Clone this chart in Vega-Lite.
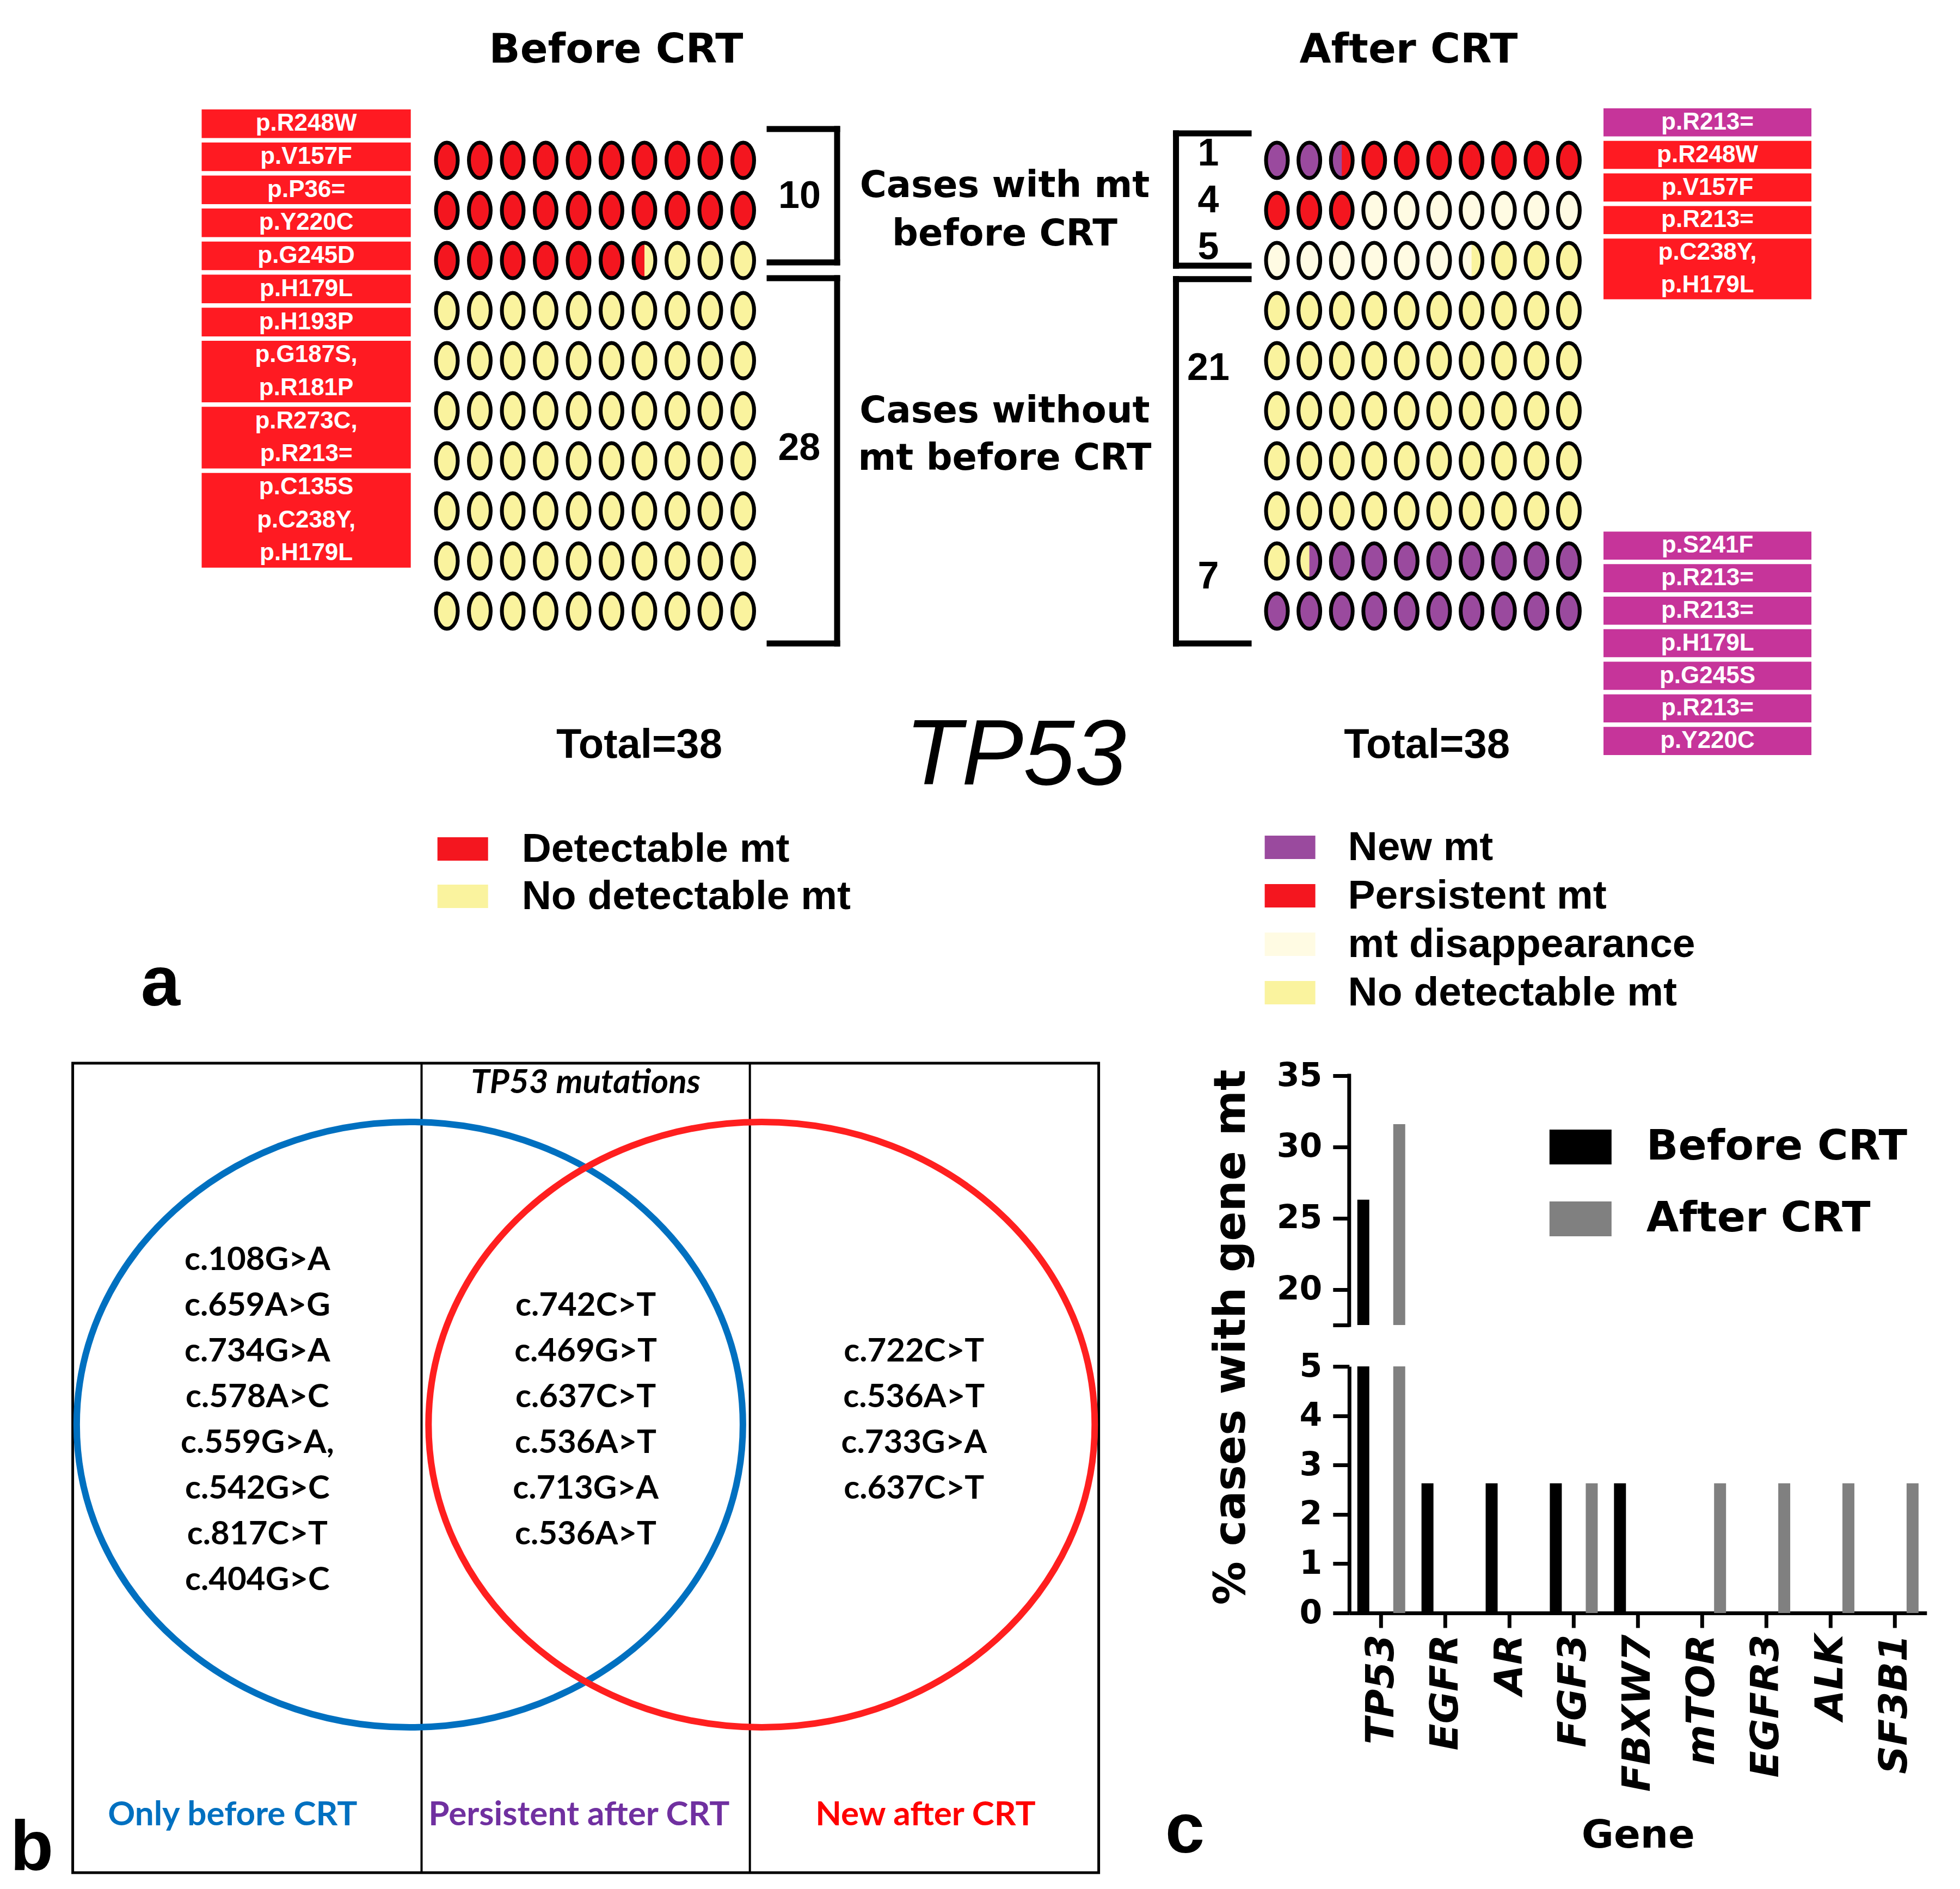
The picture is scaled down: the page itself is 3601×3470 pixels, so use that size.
{
  "$schema": "https://vega.github.io/schema/vega-lite/v6.json",
  "padding": 0,
  "background": "white",
  "spacing": 0,
  "bounds": "flush",
  "config": {"view": {"stroke": null}, "font": "Liberation Sans", "axis": {"grid": false}},
  "resolve": {"scale": {"color": "independent", "x": "independent", "y": "independent"}, "legend": {"color": "independent"}},
  "datasets": {
    "before": [
      {"r":0,"c":0,"L":"Detectable mt","R":"Detectable mt"},{"r":0,"c":1,"L":"Detectable mt","R":"Detectable mt"},{"r":0,"c":2,"L":"Detectable mt","R":"Detectable mt"},{"r":0,"c":3,"L":"Detectable mt","R":"Detectable mt"},{"r":0,"c":4,"L":"Detectable mt","R":"Detectable mt"},{"r":0,"c":5,"L":"Detectable mt","R":"Detectable mt"},{"r":0,"c":6,"L":"Detectable mt","R":"Detectable mt"},{"r":0,"c":7,"L":"Detectable mt","R":"Detectable mt"},{"r":0,"c":8,"L":"Detectable mt","R":"Detectable mt"},{"r":0,"c":9,"L":"Detectable mt","R":"Detectable mt"},
      {"r":1,"c":0,"L":"Detectable mt","R":"Detectable mt"},{"r":1,"c":1,"L":"Detectable mt","R":"Detectable mt"},{"r":1,"c":2,"L":"Detectable mt","R":"Detectable mt"},{"r":1,"c":3,"L":"Detectable mt","R":"Detectable mt"},{"r":1,"c":4,"L":"Detectable mt","R":"Detectable mt"},{"r":1,"c":5,"L":"Detectable mt","R":"Detectable mt"},{"r":1,"c":6,"L":"Detectable mt","R":"Detectable mt"},{"r":1,"c":7,"L":"Detectable mt","R":"Detectable mt"},{"r":1,"c":8,"L":"Detectable mt","R":"Detectable mt"},{"r":1,"c":9,"L":"Detectable mt","R":"Detectable mt"},
      {"r":2,"c":0,"L":"Detectable mt","R":"Detectable mt"},{"r":2,"c":1,"L":"Detectable mt","R":"Detectable mt"},{"r":2,"c":2,"L":"Detectable mt","R":"Detectable mt"},{"r":2,"c":3,"L":"Detectable mt","R":"Detectable mt"},{"r":2,"c":4,"L":"Detectable mt","R":"Detectable mt"},{"r":2,"c":5,"L":"Detectable mt","R":"Detectable mt"},{"r":2,"c":6,"L":"Detectable mt","R":"No detectable mt"},{"r":2,"c":7,"L":"No detectable mt","R":"No detectable mt"},{"r":2,"c":8,"L":"No detectable mt","R":"No detectable mt"},{"r":2,"c":9,"L":"No detectable mt","R":"No detectable mt"},
      {"r":3,"c":0,"L":"No detectable mt","R":"No detectable mt"},{"r":3,"c":1,"L":"No detectable mt","R":"No detectable mt"},{"r":3,"c":2,"L":"No detectable mt","R":"No detectable mt"},{"r":3,"c":3,"L":"No detectable mt","R":"No detectable mt"},{"r":3,"c":4,"L":"No detectable mt","R":"No detectable mt"},{"r":3,"c":5,"L":"No detectable mt","R":"No detectable mt"},{"r":3,"c":6,"L":"No detectable mt","R":"No detectable mt"},{"r":3,"c":7,"L":"No detectable mt","R":"No detectable mt"},{"r":3,"c":8,"L":"No detectable mt","R":"No detectable mt"},{"r":3,"c":9,"L":"No detectable mt","R":"No detectable mt"},
      {"r":4,"c":0,"L":"No detectable mt","R":"No detectable mt"},{"r":4,"c":1,"L":"No detectable mt","R":"No detectable mt"},{"r":4,"c":2,"L":"No detectable mt","R":"No detectable mt"},{"r":4,"c":3,"L":"No detectable mt","R":"No detectable mt"},{"r":4,"c":4,"L":"No detectable mt","R":"No detectable mt"},{"r":4,"c":5,"L":"No detectable mt","R":"No detectable mt"},{"r":4,"c":6,"L":"No detectable mt","R":"No detectable mt"},{"r":4,"c":7,"L":"No detectable mt","R":"No detectable mt"},{"r":4,"c":8,"L":"No detectable mt","R":"No detectable mt"},{"r":4,"c":9,"L":"No detectable mt","R":"No detectable mt"},
      {"r":5,"c":0,"L":"No detectable mt","R":"No detectable mt"},{"r":5,"c":1,"L":"No detectable mt","R":"No detectable mt"},{"r":5,"c":2,"L":"No detectable mt","R":"No detectable mt"},{"r":5,"c":3,"L":"No detectable mt","R":"No detectable mt"},{"r":5,"c":4,"L":"No detectable mt","R":"No detectable mt"},{"r":5,"c":5,"L":"No detectable mt","R":"No detectable mt"},{"r":5,"c":6,"L":"No detectable mt","R":"No detectable mt"},{"r":5,"c":7,"L":"No detectable mt","R":"No detectable mt"},{"r":5,"c":8,"L":"No detectable mt","R":"No detectable mt"},{"r":5,"c":9,"L":"No detectable mt","R":"No detectable mt"},
      {"r":6,"c":0,"L":"No detectable mt","R":"No detectable mt"},{"r":6,"c":1,"L":"No detectable mt","R":"No detectable mt"},{"r":6,"c":2,"L":"No detectable mt","R":"No detectable mt"},{"r":6,"c":3,"L":"No detectable mt","R":"No detectable mt"},{"r":6,"c":4,"L":"No detectable mt","R":"No detectable mt"},{"r":6,"c":5,"L":"No detectable mt","R":"No detectable mt"},{"r":6,"c":6,"L":"No detectable mt","R":"No detectable mt"},{"r":6,"c":7,"L":"No detectable mt","R":"No detectable mt"},{"r":6,"c":8,"L":"No detectable mt","R":"No detectable mt"},{"r":6,"c":9,"L":"No detectable mt","R":"No detectable mt"},
      {"r":7,"c":0,"L":"No detectable mt","R":"No detectable mt"},{"r":7,"c":1,"L":"No detectable mt","R":"No detectable mt"},{"r":7,"c":2,"L":"No detectable mt","R":"No detectable mt"},{"r":7,"c":3,"L":"No detectable mt","R":"No detectable mt"},{"r":7,"c":4,"L":"No detectable mt","R":"No detectable mt"},{"r":7,"c":5,"L":"No detectable mt","R":"No detectable mt"},{"r":7,"c":6,"L":"No detectable mt","R":"No detectable mt"},{"r":7,"c":7,"L":"No detectable mt","R":"No detectable mt"},{"r":7,"c":8,"L":"No detectable mt","R":"No detectable mt"},{"r":7,"c":9,"L":"No detectable mt","R":"No detectable mt"},
      {"r":8,"c":0,"L":"No detectable mt","R":"No detectable mt"},{"r":8,"c":1,"L":"No detectable mt","R":"No detectable mt"},{"r":8,"c":2,"L":"No detectable mt","R":"No detectable mt"},{"r":8,"c":3,"L":"No detectable mt","R":"No detectable mt"},{"r":8,"c":4,"L":"No detectable mt","R":"No detectable mt"},{"r":8,"c":5,"L":"No detectable mt","R":"No detectable mt"},{"r":8,"c":6,"L":"No detectable mt","R":"No detectable mt"},{"r":8,"c":7,"L":"No detectable mt","R":"No detectable mt"},{"r":8,"c":8,"L":"No detectable mt","R":"No detectable mt"},{"r":8,"c":9,"L":"No detectable mt","R":"No detectable mt"},
      {"r":9,"c":0,"L":"No detectable mt","R":"No detectable mt"},{"r":9,"c":1,"L":"No detectable mt","R":"No detectable mt"},{"r":9,"c":2,"L":"No detectable mt","R":"No detectable mt"},{"r":9,"c":3,"L":"No detectable mt","R":"No detectable mt"},{"r":9,"c":4,"L":"No detectable mt","R":"No detectable mt"},{"r":9,"c":5,"L":"No detectable mt","R":"No detectable mt"},{"r":9,"c":6,"L":"No detectable mt","R":"No detectable mt"},{"r":9,"c":7,"L":"No detectable mt","R":"No detectable mt"},{"r":9,"c":8,"L":"No detectable mt","R":"No detectable mt"},{"r":9,"c":9,"L":"No detectable mt","R":"No detectable mt"}
    ],
    "after": [
      {"r":0,"c":0,"L":"New mt","R":"New mt"},{"r":0,"c":1,"L":"New mt","R":"New mt"},{"r":0,"c":2,"L":"New mt","R":"Persistent mt"},{"r":0,"c":3,"L":"Persistent mt","R":"Persistent mt"},{"r":0,"c":4,"L":"Persistent mt","R":"Persistent mt"},{"r":0,"c":5,"L":"Persistent mt","R":"Persistent mt"},{"r":0,"c":6,"L":"Persistent mt","R":"Persistent mt"},{"r":0,"c":7,"L":"Persistent mt","R":"Persistent mt"},{"r":0,"c":8,"L":"Persistent mt","R":"Persistent mt"},{"r":0,"c":9,"L":"Persistent mt","R":"Persistent mt"},
      {"r":1,"c":0,"L":"Persistent mt","R":"Persistent mt"},{"r":1,"c":1,"L":"Persistent mt","R":"Persistent mt"},{"r":1,"c":2,"L":"Persistent mt","R":"Persistent mt"},{"r":1,"c":3,"L":"mt disappearance","R":"mt disappearance"},{"r":1,"c":4,"L":"mt disappearance","R":"mt disappearance"},{"r":1,"c":5,"L":"mt disappearance","R":"mt disappearance"},{"r":1,"c":6,"L":"mt disappearance","R":"mt disappearance"},{"r":1,"c":7,"L":"mt disappearance","R":"mt disappearance"},{"r":1,"c":8,"L":"mt disappearance","R":"mt disappearance"},{"r":1,"c":9,"L":"mt disappearance","R":"mt disappearance"},
      {"r":2,"c":0,"L":"mt disappearance","R":"mt disappearance"},{"r":2,"c":1,"L":"mt disappearance","R":"mt disappearance"},{"r":2,"c":2,"L":"mt disappearance","R":"mt disappearance"},{"r":2,"c":3,"L":"mt disappearance","R":"mt disappearance"},{"r":2,"c":4,"L":"mt disappearance","R":"mt disappearance"},{"r":2,"c":5,"L":"mt disappearance","R":"mt disappearance"},{"r":2,"c":6,"L":"mt disappearance","R":"No detectable mt"},{"r":2,"c":7,"L":"No detectable mt","R":"No detectable mt"},{"r":2,"c":8,"L":"No detectable mt","R":"No detectable mt"},{"r":2,"c":9,"L":"No detectable mt","R":"No detectable mt"},
      {"r":3,"c":0,"L":"No detectable mt","R":"No detectable mt"},{"r":3,"c":1,"L":"No detectable mt","R":"No detectable mt"},{"r":3,"c":2,"L":"No detectable mt","R":"No detectable mt"},{"r":3,"c":3,"L":"No detectable mt","R":"No detectable mt"},{"r":3,"c":4,"L":"No detectable mt","R":"No detectable mt"},{"r":3,"c":5,"L":"No detectable mt","R":"No detectable mt"},{"r":3,"c":6,"L":"No detectable mt","R":"No detectable mt"},{"r":3,"c":7,"L":"No detectable mt","R":"No detectable mt"},{"r":3,"c":8,"L":"No detectable mt","R":"No detectable mt"},{"r":3,"c":9,"L":"No detectable mt","R":"No detectable mt"},
      {"r":4,"c":0,"L":"No detectable mt","R":"No detectable mt"},{"r":4,"c":1,"L":"No detectable mt","R":"No detectable mt"},{"r":4,"c":2,"L":"No detectable mt","R":"No detectable mt"},{"r":4,"c":3,"L":"No detectable mt","R":"No detectable mt"},{"r":4,"c":4,"L":"No detectable mt","R":"No detectable mt"},{"r":4,"c":5,"L":"No detectable mt","R":"No detectable mt"},{"r":4,"c":6,"L":"No detectable mt","R":"No detectable mt"},{"r":4,"c":7,"L":"No detectable mt","R":"No detectable mt"},{"r":4,"c":8,"L":"No detectable mt","R":"No detectable mt"},{"r":4,"c":9,"L":"No detectable mt","R":"No detectable mt"},
      {"r":5,"c":0,"L":"No detectable mt","R":"No detectable mt"},{"r":5,"c":1,"L":"No detectable mt","R":"No detectable mt"},{"r":5,"c":2,"L":"No detectable mt","R":"No detectable mt"},{"r":5,"c":3,"L":"No detectable mt","R":"No detectable mt"},{"r":5,"c":4,"L":"No detectable mt","R":"No detectable mt"},{"r":5,"c":5,"L":"No detectable mt","R":"No detectable mt"},{"r":5,"c":6,"L":"No detectable mt","R":"No detectable mt"},{"r":5,"c":7,"L":"No detectable mt","R":"No detectable mt"},{"r":5,"c":8,"L":"No detectable mt","R":"No detectable mt"},{"r":5,"c":9,"L":"No detectable mt","R":"No detectable mt"},
      {"r":6,"c":0,"L":"No detectable mt","R":"No detectable mt"},{"r":6,"c":1,"L":"No detectable mt","R":"No detectable mt"},{"r":6,"c":2,"L":"No detectable mt","R":"No detectable mt"},{"r":6,"c":3,"L":"No detectable mt","R":"No detectable mt"},{"r":6,"c":4,"L":"No detectable mt","R":"No detectable mt"},{"r":6,"c":5,"L":"No detectable mt","R":"No detectable mt"},{"r":6,"c":6,"L":"No detectable mt","R":"No detectable mt"},{"r":6,"c":7,"L":"No detectable mt","R":"No detectable mt"},{"r":6,"c":8,"L":"No detectable mt","R":"No detectable mt"},{"r":6,"c":9,"L":"No detectable mt","R":"No detectable mt"},
      {"r":7,"c":0,"L":"No detectable mt","R":"No detectable mt"},{"r":7,"c":1,"L":"No detectable mt","R":"No detectable mt"},{"r":7,"c":2,"L":"No detectable mt","R":"No detectable mt"},{"r":7,"c":3,"L":"No detectable mt","R":"No detectable mt"},{"r":7,"c":4,"L":"No detectable mt","R":"No detectable mt"},{"r":7,"c":5,"L":"No detectable mt","R":"No detectable mt"},{"r":7,"c":6,"L":"No detectable mt","R":"No detectable mt"},{"r":7,"c":7,"L":"No detectable mt","R":"No detectable mt"},{"r":7,"c":8,"L":"No detectable mt","R":"No detectable mt"},{"r":7,"c":9,"L":"No detectable mt","R":"No detectable mt"},
      {"r":8,"c":0,"L":"No detectable mt","R":"No detectable mt"},{"r":8,"c":1,"L":"No detectable mt","R":"New mt"},{"r":8,"c":2,"L":"New mt","R":"New mt"},{"r":8,"c":3,"L":"New mt","R":"New mt"},{"r":8,"c":4,"L":"New mt","R":"New mt"},{"r":8,"c":5,"L":"New mt","R":"New mt"},{"r":8,"c":6,"L":"New mt","R":"New mt"},{"r":8,"c":7,"L":"New mt","R":"New mt"},{"r":8,"c":8,"L":"New mt","R":"New mt"},{"r":8,"c":9,"L":"New mt","R":"New mt"},
      {"r":9,"c":0,"L":"New mt","R":"New mt"},{"r":9,"c":1,"L":"New mt","R":"New mt"},{"r":9,"c":2,"L":"New mt","R":"New mt"},{"r":9,"c":3,"L":"New mt","R":"New mt"},{"r":9,"c":4,"L":"New mt","R":"New mt"},{"r":9,"c":5,"L":"New mt","R":"New mt"},{"r":9,"c":6,"L":"New mt","R":"New mt"},{"r":9,"c":7,"L":"New mt","R":"New mt"},{"r":9,"c":8,"L":"New mt","R":"New mt"},{"r":9,"c":9,"L":"New mt","R":"New mt"}
    ],
    "lbBoxes": [
      {"s":0,"e":1,"k":"Detectable mt"},{"s":1,"e":2,"k":"Detectable mt"},{"s":2,"e":3,"k":"Detectable mt"},{"s":3,"e":4,"k":"Detectable mt"},{"s":4,"e":5,"k":"Detectable mt"},{"s":5,"e":6,"k":"Detectable mt"},{"s":6,"e":7,"k":"Detectable mt"},{"s":7,"e":9,"k":"Detectable mt"},{"s":9,"e":11,"k":"Detectable mt"},{"s":11,"e":14,"k":"Detectable mt"}
    ],
    "lbText": [
      {"t":"p.R248W","l":0},{"t":"p.V157F","l":1},{"t":"p.P36=","l":2},{"t":"p.Y220C","l":3},{"t":"p.G245D","l":4},{"t":"p.H179L","l":5},{"t":"p.H193P","l":6},{"t":"p.G187S,","l":7},{"t":"p.R181P","l":8},{"t":"p.R273C,","l":9},{"t":"p.R213=","l":10},{"t":"p.C135S","l":11},{"t":"p.C238Y,","l":12},{"t":"p.H179L","l":13}
    ],
    "laBoxes": [
      {"s":0,"e":1,"k":"New mt"},{"s":1,"e":2,"k":"Persistent mt"},{"s":2,"e":3,"k":"Persistent mt"},{"s":3,"e":4,"k":"Persistent mt"},{"s":4,"e":6,"k":"Persistent mt"},
      {"s":13,"e":14,"k":"New mt"},{"s":14,"e":15,"k":"New mt"},{"s":15,"e":16,"k":"New mt"},{"s":16,"e":17,"k":"New mt"},{"s":17,"e":18,"k":"New mt"},{"s":18,"e":19,"k":"New mt"},{"s":19,"e":20,"k":"New mt"}
    ],
    "laText": [
      {"t":"p.R213=","l":0},{"t":"p.R248W","l":1},{"t":"p.V157F","l":2},{"t":"p.R213=","l":3},{"t":"p.C238Y,","l":4},{"t":"p.H179L","l":5},
      {"t":"p.S241F","l":13},{"t":"p.R213=","l":14},{"t":"p.R213=","l":15},{"t":"p.H179L","l":16},{"t":"p.G245S","l":17},{"t":"p.R213=","l":18},{"t":"p.Y220C","l":19}
    ],
    "venn": [
      {"g":"Only before CRT","s":0,"t":"c.108G>A"},{"g":"Only before CRT","s":1,"t":"c.659A>G"},{"g":"Only before CRT","s":2,"t":"c.734G>A"},{"g":"Only before CRT","s":3,"t":"c.578A>C"},{"g":"Only before CRT","s":4,"t":"c.559G>A,"},{"g":"Only before CRT","s":5,"t":"c.542G>C"},{"g":"Only before CRT","s":6,"t":"c.817C>T"},{"g":"Only before CRT","s":7,"t":"c.404G>C"},
      {"g":"Persistent after CRT","s":1,"t":"c.742C>T"},{"g":"Persistent after CRT","s":2,"t":"c.469G>T"},{"g":"Persistent after CRT","s":3,"t":"c.637C>T"},{"g":"Persistent after CRT","s":4,"t":"c.536A>T"},{"g":"Persistent after CRT","s":5,"t":"c.713G>A"},{"g":"Persistent after CRT","s":6,"t":"c.536A>T"},
      {"g":"New after CRT","s":2,"t":"c.722C>T"},{"g":"New after CRT","s":3,"t":"c.536A>T"},{"g":"New after CRT","s":4,"t":"c.733G>A"},{"g":"New after CRT","s":5,"t":"c.637C>T"}
    ],
    "genes": [
      {"gene":"TP53","period":"Before CRT","pct":26.3},{"gene":"TP53","period":"After CRT","pct":31.6},
      {"gene":"EGFR","period":"Before CRT","pct":2.63},{"gene":"AR","period":"Before CRT","pct":2.63},
      {"gene":"FGF3","period":"Before CRT","pct":2.63},{"gene":"FGF3","period":"After CRT","pct":2.63},
      {"gene":"FBXW7","period":"Before CRT","pct":2.63},{"gene":"mTOR","period":"After CRT","pct":2.63},
      {"gene":"EGFR3","period":"After CRT","pct":2.63},{"gene":"ALK","period":"After CRT","pct":2.63},
      {"gene":"SF3B1","period":"After CRT","pct":2.63}
    ]
  },
  "vconcat": [
    {
      "width": 3601,
      "height": 1953,
      "resolve": {"scale": {"x": "independent", "y": "independent", "color": "independent"}, "legend": {"color": "independent"}},
      "layer": [
        {
          "layer": [
            {"data": {"name": "before"}, "mark": {"type": "point", "shape": "M0 -1 A0.615 1 0 1 1 0 1 A0.615 1 0 1 1 0 -1 Z", "size": 4225, "filled": true, "opacity": 1, "strokeWidth": 0},
             "encoding": {
               "x": {"field": "c", "type": "quantitative", "scale": {"domain": [-13.5702, 45.9505], "nice": false, "zero": false}, "axis": null},
               "y": {"field": "r", "type": "quantitative", "scale": {"domain": [-3.2011, 18.0272], "nice": false, "zero": false, "reverse": true}, "axis": null},
               "color": {"field": "L", "type": "nominal", "scale": {"domain": ["Detectable mt", "No detectable mt"], "range": ["#f4161f", "#faf39e"]},
                 "legend": {"title": null, "orient": "none", "legendX": 803.7, "legendY": 1513, "symbolType": "M-1 -0.4624 H1 V0.4624 H-1 Z", "symbolSize": 8649, "symbolStrokeWidth": 0, "symbolOpacity": 1, "labelFont": "Liberation Sans", "labelFontWeight": "bold", "labelFontSize": 75, "labelColor": "black", "labelOffset": 62, "labelLimit": 2000, "rowPadding": 2, "padding": 0}}
             }},
            {"data": {"name": "before"}, "mark": {"type": "point", "shape": "M0 -1 A0.615 1 0 0 1 0 1 Z", "size": 4225, "filled": true, "opacity": 1, "strokeWidth": 0},
             "encoding": {
               "x": {"field": "c", "type": "quantitative", "scale": {"domain": [-13.5702, 45.9505], "nice": false, "zero": false}, "axis": null},
               "y": {"field": "r", "type": "quantitative", "scale": {"domain": [-3.2011, 18.0272], "nice": false, "zero": false, "reverse": true}, "axis": null},
               "color": {"field": "R", "type": "nominal", "scale": {"domain": ["Detectable mt", "No detectable mt"], "range": ["#f4161f", "#faf39e"]}}
             }},
            {"data": {"name": "before"}, "mark": {"type": "point", "shape": "M0 -1 A0.615 1 0 1 1 0 1 A0.615 1 0 1 1 0 -1 Z", "size": 4225, "filled": false, "opacity": 1, "color": "black", "strokeWidth": 7},
             "encoding": {
               "x": {"field": "c", "type": "quantitative", "scale": {"domain": [-13.5702, 45.9505], "nice": false, "zero": false}, "axis": null},
               "y": {"field": "r", "type": "quantitative", "scale": {"domain": [-3.2011, 18.0272], "nice": false, "zero": false, "reverse": true}, "axis": null}
             }},
            {"data": {"values": [{}]}, "mark": {"type": "text", "text": "Before CRT", "font": "DejaVu Sans", "fontWeight": "bold", "fontSize": 75, "align": "center", "baseline": "middle"},
             "encoding": {"x": {"datum": 5.14, "type": "quantitative"}, "y": {"datum": -2.201, "type": "quantitative"}}},
            {"data": {"values": [{}]}, "mark": {"type": "text", "text": "Total=38", "font": "Liberation Sans", "fontWeight": "bold", "fontSize": 76, "align": "center", "baseline": "middle"},
             "encoding": {"x": {"datum": 5.843, "type": "quantitative"}, "y": {"datum": 11.679, "type": "quantitative"}}},
            {"data": {"values": [{}]}, "mark": {"type": "text", "text": "10", "font": "Liberation Sans", "fontWeight": "bold", "fontSize": 70, "align": "center", "baseline": "middle"},
             "encoding": {"x": {"datum": 10.711, "type": "quantitative"}, "y": {"datum": 0.723, "type": "quantitative"}}},
            {"data": {"values": [{}]}, "mark": {"type": "text", "text": "28", "font": "Liberation Sans", "fontWeight": "bold", "fontSize": 70, "align": "center", "baseline": "middle"},
             "encoding": {"x": {"datum": 10.7, "type": "quantitative"}, "y": {"datum": 5.755, "type": "quantitative"}}},
            {"data": {"values": [{}]}, "mark": {"type": "rule", "strokeWidth": 11, "color": "black", "strokeCap": "square"},
             "encoding": {"x": {"datum": 9.802, "type": "quantitative"}, "x2": {"datum": 11.851}, "y": {"datum": -0.625, "type": "quantitative"}}},
            {"data": {"values": [{}]}, "mark": {"type": "rule", "strokeWidth": 11, "color": "black", "strokeCap": "square"},
             "encoding": {"x": {"datum": 11.851, "type": "quantitative"}, "y": {"datum": -0.625, "type": "quantitative"}, "y2": {"datum": 2.038}}},
            {"data": {"values": [{}]}, "mark": {"type": "rule", "strokeWidth": 11, "color": "black", "strokeCap": "square"},
             "encoding": {"x": {"datum": 9.802, "type": "quantitative"}, "x2": {"datum": 11.851}, "y": {"datum": 2.038, "type": "quantitative"}}},
            {"data": {"values": [{}]}, "mark": {"type": "rule", "strokeWidth": 11, "color": "black", "strokeCap": "square"},
             "encoding": {"x": {"datum": 9.802, "type": "quantitative"}, "x2": {"datum": 11.851}, "y": {"datum": 2.353, "type": "quantitative"}}},
            {"data": {"values": [{}]}, "mark": {"type": "rule", "strokeWidth": 11, "color": "black", "strokeCap": "square"},
             "encoding": {"x": {"datum": 11.851, "type": "quantitative"}, "y": {"datum": 2.353, "type": "quantitative"}, "y2": {"datum": 9.647}}},
            {"data": {"values": [{}]}, "mark": {"type": "rule", "strokeWidth": 11, "color": "black", "strokeCap": "square"},
             "encoding": {"x": {"datum": 9.802, "type": "quantitative"}, "x2": {"datum": 11.851}, "y": {"datum": 9.647, "type": "quantitative"}}},
            {"data": {"values": [{}]}, "mark": {"type": "text", "text": "Cases with mt", "font": "DejaVu Sans", "fontWeight": "bold", "fontSize": 67, "align": "center", "baseline": "middle"},
             "encoding": {"x": {"datum": 16.942, "type": "quantitative"}, "y": {"datum": 0.516, "type": "quantitative"}}},
            {"data": {"values": [{}]}, "mark": {"type": "text", "text": "before CRT", "font": "DejaVu Sans", "fontWeight": "bold", "fontSize": 67, "align": "center", "baseline": "middle"},
             "encoding": {"x": {"datum": 16.942, "type": "quantitative"}, "y": {"datum": 1.484, "type": "quantitative"}}},
            {"data": {"values": [{}]}, "mark": {"type": "text", "text": "Cases without", "font": "DejaVu Sans", "fontWeight": "bold", "fontSize": 67, "align": "center", "baseline": "middle"},
             "encoding": {"x": {"datum": 16.942, "type": "quantitative"}, "y": {"datum": 5.012, "type": "quantitative"}}},
            {"data": {"values": [{}]}, "mark": {"type": "text", "text": "mt before CRT", "font": "DejaVu Sans", "fontWeight": "bold", "fontSize": 67, "align": "center", "baseline": "middle"},
             "encoding": {"x": {"datum": 16.942, "type": "quantitative"}, "y": {"datum": 5.967, "type": "quantitative"}}},
            {"data": {"values": [{}]}, "mark": {"type": "text", "text": "TP53", "font": "Liberation Sans", "fontStyle": "italic", "fontWeight": "normal", "fontSize": 170, "align": "center", "baseline": "middle"},
             "encoding": {"x": {"datum": 17.273, "type": "quantitative"}, "y": {"datum": 11.908, "type": "quantitative"}}},
            {"data": {"values": [{}]}, "mark": {"type": "text", "text": "a", "font": "Liberation Sans", "fontWeight": "bold", "fontSize": 130, "align": "center", "baseline": "alphabetic"},
             "encoding": {"x": {"datum": -8.694, "type": "quantitative"}, "y": {"datum": 16.875, "type": "quantitative"}}}
          ]
        },
        {
          "layer": [
            {"data": {"name": "after"}, "mark": {"type": "point", "shape": "M0 -1 A0.615 1 0 1 1 0 1 A0.615 1 0 1 1 0 -1 Z", "size": 4225, "filled": true, "opacity": 1, "strokeWidth": 0},
             "encoding": {
               "x": {"field": "c", "type": "quantitative", "scale": {"domain": [-39.3624, 21.0571], "nice": false, "zero": false}, "axis": null},
               "y": {"field": "r", "type": "quantitative", "scale": {"domain": [-3.2011, 18.0272], "nice": false, "zero": false, "reverse": true}, "axis": null},
               "color": {"field": "L", "type": "nominal", "scale": {"domain": ["New mt", "Persistent mt", "mt disappearance", "No detectable mt"], "range": ["#9a4a9e", "#f4161f", "#fffbe3", "#faf39e"]},
                 "legend": {"title": null, "orient": "none", "legendX": 2323.6, "legendY": 1510, "symbolType": "M-1 -0.4624 H1 V0.4624 H-1 Z", "symbolSize": 8649, "symbolStrokeWidth": 0, "symbolOpacity": 1, "labelFont": "Liberation Sans", "labelFontWeight": "bold", "labelFontSize": 75, "labelColor": "black", "labelOffset": 60, "labelLimit": 2000, "rowPadding": 4, "padding": 0}}
             }},
            {"data": {"name": "after"}, "mark": {"type": "point", "shape": "M0 -1 A0.615 1 0 0 1 0 1 Z", "size": 4225, "filled": true, "opacity": 1, "strokeWidth": 0},
             "encoding": {
               "x": {"field": "c", "type": "quantitative", "scale": {"domain": [-39.3624, 21.0571], "nice": false, "zero": false}, "axis": null},
               "y": {"field": "r", "type": "quantitative", "scale": {"domain": [-3.2011, 18.0272], "nice": false, "zero": false, "reverse": true}, "axis": null},
               "color": {"field": "R", "type": "nominal", "scale": {"domain": ["New mt", "Persistent mt", "mt disappearance", "No detectable mt"], "range": ["#9a4a9e", "#f4161f", "#fffbe3", "#faf39e"]}}
             }},
            {"data": {"name": "after"}, "mark": {"type": "point", "shape": "M0 -1 A0.615 1 0 1 1 0 1 A0.615 1 0 1 1 0 -1 Z", "size": 4225, "filled": false, "opacity": 1, "color": "black", "strokeWidth": 7},
             "encoding": {
               "x": {"field": "c", "type": "quantitative", "scale": {"domain": [-39.3624, 21.0571], "nice": false, "zero": false}, "axis": null},
               "y": {"field": "r", "type": "quantitative", "scale": {"domain": [-3.2011, 18.0272], "nice": false, "zero": false, "reverse": true}, "axis": null}
             }},
            {"data": {"values": [{}]}, "mark": {"type": "text", "text": "After CRT", "font": "DejaVu Sans", "fontWeight": "bold", "fontSize": 75, "align": "center", "baseline": "middle"},
             "encoding": {"x": {"datum": 4.06, "type": "quantitative"}, "y": {"datum": -2.201, "type": "quantitative"}}},
            {"data": {"values": [{}]}, "mark": {"type": "text", "text": "Total=38", "font": "Liberation Sans", "fontWeight": "bold", "fontSize": 76, "align": "center", "baseline": "middle"},
             "encoding": {"x": {"datum": 4.624, "type": "quantitative"}, "y": {"datum": 11.679, "type": "quantitative"}}},
            {"data": {"values": [{}]}, "mark": {"type": "rule", "strokeWidth": 11, "color": "black", "strokeCap": "square"},
             "encoding": {"x": {"datum": -3.111, "type": "quantitative"}, "y": {"datum": -0.538, "type": "quantitative"}, "y2": {"datum": 2.103}}},
            {"data": {"values": [{}]}, "mark": {"type": "rule", "strokeWidth": 11, "color": "black", "strokeCap": "square"},
             "encoding": {"x": {"datum": -3.111, "type": "quantitative"}, "x2": {"datum": -0.872}, "y": {"datum": -0.538, "type": "quantitative"}}},
            {"data": {"values": [{}]}, "mark": {"type": "rule", "strokeWidth": 11, "color": "black", "strokeCap": "square"},
             "encoding": {"x": {"datum": -3.111, "type": "quantitative"}, "x2": {"datum": -0.872}, "y": {"datum": 2.103, "type": "quantitative"}}},
            {"data": {"values": [{}]}, "mark": {"type": "rule", "strokeWidth": 11, "color": "black", "strokeCap": "square"},
             "encoding": {"x": {"datum": -3.111, "type": "quantitative"}, "y": {"datum": 2.371, "type": "quantitative"}, "y2": {"datum": 9.647}}},
            {"data": {"values": [{}]}, "mark": {"type": "rule", "strokeWidth": 11, "color": "black", "strokeCap": "square"},
             "encoding": {"x": {"datum": -3.111, "type": "quantitative"}, "x2": {"datum": -0.872}, "y": {"datum": 2.371, "type": "quantitative"}}},
            {"data": {"values": [{}]}, "mark": {"type": "rule", "strokeWidth": 11, "color": "black", "strokeCap": "square"},
             "encoding": {"x": {"datum": -3.111, "type": "quantitative"}, "x2": {"datum": -0.872}, "y": {"datum": 9.647, "type": "quantitative"}}},
            {"data": {"values": [{}]}, "mark": {"type": "text", "text": "1", "font": "Liberation Sans", "fontWeight": "bold", "fontSize": 70, "align": "center", "baseline": "middle"},
             "encoding": {"x": {"datum": -2.114, "type": "quantitative"}, "y": {"datum": -0.125, "type": "quantitative"}}},
            {"data": {"values": [{}]}, "mark": {"type": "text", "text": "4", "font": "Liberation Sans", "fontWeight": "bold", "fontSize": 70, "align": "center", "baseline": "middle"},
             "encoding": {"x": {"datum": -2.114, "type": "quantitative"}, "y": {"datum": 0.81, "type": "quantitative"}}},
            {"data": {"values": [{}]}, "mark": {"type": "text", "text": "5", "font": "Liberation Sans", "fontWeight": "bold", "fontSize": 70, "align": "center", "baseline": "middle"},
             "encoding": {"x": {"datum": -2.114, "type": "quantitative"}, "y": {"datum": 1.745, "type": "quantitative"}}},
            {"data": {"values": [{}]}, "mark": {"type": "text", "text": "21", "font": "Liberation Sans", "fontWeight": "bold", "fontSize": 70, "align": "center", "baseline": "middle"},
             "encoding": {"x": {"datum": -2.114, "type": "quantitative"}, "y": {"datum": 4.158, "type": "quantitative"}}},
            {"data": {"values": [{}]}, "mark": {"type": "text", "text": "7", "font": "Liberation Sans", "fontWeight": "bold", "fontSize": 70, "align": "center", "baseline": "middle"},
             "encoding": {"x": {"datum": -2.114, "type": "quantitative"}, "y": {"datum": 8.317, "type": "quantitative"}}}
          ]
        },
        {
          "resolve": {"scale": {"y": "independent"}},
          "layer": [
            {"data": {"name": "lbBoxes"}, "mark": {"type": "rect", "stroke": "white", "strokeWidth": 8},
             "encoding": {
               "x": {"datum": 0, "type": "quantitative", "scale": {"domain": [-0.9345, 8.247], "nice": false, "zero": false}, "axis": null},
               "x2": {"datum": 1},
               "y": {"field": "s", "type": "quantitative", "scale": {"domain": [-3.2455, 28.9291], "nice": false, "zero": false, "reverse": true}, "axis": null},
               "y2": {"field": "e"},
               "color": {"field": "k", "type": "nominal", "scale": {"domain": ["Detectable mt"], "range": ["#ff1a22"]}, "legend": null}
             }},
            {"data": {"name": "lbText"}, "mark": {"type": "text", "font": "Liberation Sans", "fontWeight": "bold", "fontSize": 44, "color": "white", "align": "center", "baseline": "middle"},
             "encoding": {
               "x": {"datum": 0.5, "type": "quantitative", "scale": {"domain": [-0.9345, 8.247], "nice": false, "zero": false}, "axis": null},
               "y": {"field": "l", "type": "quantitative", "scale": {"domain": [-3.7455, 28.4291], "nice": false, "zero": false, "reverse": true}, "axis": null},
               "text": {"field": "t"}
             }}
          ]
        },
        {
          "resolve": {"scale": {"y": "independent"}},
          "layer": [
            {"data": {"name": "laBoxes"}, "mark": {"type": "rect", "stroke": "white", "strokeWidth": 8},
             "encoding": {
               "x": {"datum": 0, "type": "quantitative", "scale": {"domain": [-7.5436, 1.6897], "nice": false, "zero": false}, "axis": null},
               "x2": {"datum": 1},
               "y": {"field": "s", "type": "quantitative", "scale": {"domain": [-3.2609, 29.398], "nice": false, "zero": false, "reverse": true}, "axis": null},
               "y2": {"field": "e"},
               "color": {"field": "k", "type": "nominal", "scale": {"domain": ["Persistent mt", "New mt"], "range": ["#ff1a22", "#c6349a"]}, "legend": null}
             }},
            {"data": {"name": "laText"}, "mark": {"type": "text", "font": "Liberation Sans", "fontWeight": "bold", "fontSize": 44, "color": "white", "align": "center", "baseline": "middle"},
             "encoding": {
               "x": {"datum": 0.5, "type": "quantitative", "scale": {"domain": [-7.5436, 1.6897], "nice": false, "zero": false}, "axis": null},
               "y": {"field": "l", "type": "quantitative", "scale": {"domain": [-3.7609, 28.898], "nice": false, "zero": false, "reverse": true}, "axis": null},
               "text": {"field": "t"}
             }}
          ]
        }
      ]
    },
    {
      "hconcat": [
        {
          "width": 100, "height": 1487,
          "data": {"values": [{}]},
          "mark": {"type": "text", "text": "b", "font": "Liberation Sans", "fontWeight": "bold", "fontSize": 130, "align": "center", "baseline": "alphabetic"},
          "encoding": {
            "x": {"datum": 0.585, "type": "quantitative", "scale": {"domain": [0, 1], "nice": false, "zero": false}, "axis": null},
            "y": {"datum": 0.99664, "type": "quantitative", "scale": {"domain": [0, 1], "nice": false, "zero": false, "reverse": true}, "axis": null}
          }
        },
        {
          "width": 1885, "height": 1487,
          "view": {"stroke": "black", "strokeWidth": 5},
          "resolve": {"scale": {"x": "independent", "color": "independent"}},
          "layer": [
            {"data": {"values": [{"g": "Persistent after CRT"}, {"g": "New after CRT"}]},
             "mark": {"type": "rule", "strokeWidth": 4, "color": "black"},
             "encoding": {"x": {"field": "g", "type": "nominal", "bandPosition": 0, "scale": {"type": "band", "domain": ["Only before CRT", "Persistent after CRT", "New after CRT"], "paddingInner": 0, "paddingOuter": 0.0625}, "axis": null}}},
            {"data": {"values": [{"set": "Before CRT"}, {"set": "After CRT"}]},
             "mark": {"type": "point", "shape": "M-1 0 A1 0.9085 0 1 1 1 0 A1 0.9085 0 1 1 -1 0 Z", "size": 1498176, "filled": false, "strokeWidth": 12, "opacity": 1},
             "encoding": {
               "x": {"field": "set", "type": "nominal", "scale": {"type": "point", "domain": ["Before CRT", "After CRT"], "padding": 0.958}, "axis": null},
               "y": {"datum": 3.595, "type": "quantitative", "scale": {"domain": [-4.3095, 13.393], "nice": false, "zero": false, "reverse": true}, "axis": null},
               "color": {"field": "set", "type": "nominal", "scale": {"domain": ["Before CRT", "After CRT"], "range": ["#0070c0", "#ff1f1f"]}, "legend": null}
             }},
            {"data": {"name": "venn"},
             "mark": {"type": "text", "font": "Lato", "fontWeight": "bold", "fontSize": 60, "align": "center", "baseline": "middle", "color": "black"},
             "encoding": {
               "x": {"field": "g", "type": "nominal", "bandPosition": 0.5, "scale": {"type": "band", "domain": ["Only before CRT", "Persistent after CRT", "New after CRT"], "paddingInner": 0, "paddingOuter": 0.0625}, "axis": null},
               "y": {"field": "s", "type": "quantitative", "scale": {"domain": [-4.3095, 13.393], "nice": false, "zero": false, "reverse": true}, "axis": null},
               "text": {"field": "t"}
             }},
            {"data": {"values": [{"g": "Only before CRT"}, {"g": "Persistent after CRT"}, {"g": "New after CRT"}]},
             "mark": {"type": "text", "font": "Lato", "fontWeight": "bold", "fontSize": 62, "align": "center", "baseline": "middle"},
             "encoding": {
               "x": {"field": "g", "type": "nominal", "scale": {"type": "point", "domain": ["Only before CRT", "Persistent after CRT", "New after CRT"], "padding": 0.4806, "align": 0.48}, "axis": null},
               "y": {"datum": 12.126, "type": "quantitative"},
               "text": {"field": "g"},
               "color": {"field": "g", "type": "nominal", "scale": {"domain": ["Only before CRT", "Persistent after CRT", "New after CRT"], "range": ["#0070c0", "#7030a0", "#ff0000"]}, "legend": null}
             }},
            {"data": {"values": [{}]},
             "mark": {"type": "text", "text": "TP53 mutations", "font": "Lato", "fontWeight": "bold", "fontStyle": "italic", "fontSize": 62, "align": "center", "baseline": "middle"},
             "encoding": {
               "x": {"datum": "Persistent after CRT", "type": "nominal", "bandPosition": 0.5, "scale": {"type": "band", "domain": ["Only before CRT", "Persistent after CRT", "New after CRT"], "paddingInner": 0, "paddingOuter": 0.0625}, "axis": null},
               "y": {"datum": -3.881, "type": "quantitative"}
             }}
          ]
        },
        {
          "width": 392.2, "height": 1487,
          "data": {"values": [{}]},
          "mark": {"type": "text", "text": "c", "font": "Liberation Sans", "fontWeight": "bold", "fontSize": 130, "align": "center", "baseline": "alphabetic"},
          "encoding": {
            "x": {"datum": 0.3182, "type": "quantitative", "scale": {"domain": [0, 1], "nice": false, "zero": false}, "axis": null},
            "y": {"datum": 0.9751, "type": "quantitative", "scale": {"domain": [0, 1], "nice": false, "zero": false, "reverse": true}, "axis": null}
          }
        },
        {
          "vconcat": [
            {
              "width": 1061, "height": 481,
              "resolve": {"scale": {"x": "independent"}},
              "layer": [
                {"data": {"name": "genes"}, "mark": {"type": "bar", "clip": true},
                 "encoding": {
                   "x": {"field": "gene", "type": "nominal", "scale": {"domain": ["TP53", "EGFR", "AR", "FGF3", "FBXW7", "mTOR", "EGFR3", "ALK", "SF3B1"], "paddingInner": 0, "paddingOuter": 0}, "axis": null},
                   "xOffset": {"field": "period", "type": "nominal", "scale": {"domain": ["Before CRT", "After CRT"], "paddingInner": 0.667, "paddingOuter": 0.2265}},
                   "y": {"field": "pct", "type": "quantitative", "scale": {"domain": [17.5, 35.88], "nice": false, "zero": false},
                     "axis": {"title": null, "values": [17.5, 20, 25, 30, 35], "format": "d", "labelExpr": "datum.value == 17.5 ? '' : datum.label", "domain": false, "tickSize": 30, "tickWidth": 7, "tickColor": "black", "labelFont": "DejaVu Sans", "labelFontWeight": "bold", "labelFontSize": 60, "labelColor": "black", "labelPadding": 20}},
                   "color": {"field": "period", "type": "nominal", "scale": {"domain": ["Before CRT", "After CRT"], "range": ["#000000", "#808080"]},
                     "legend": {"title": null, "orient": "none", "legendX": 368, "legendY": 97, "symbolType": "M-1 -0.5614 H1 V0.5614 H-1 Z", "symbolSize": 12996, "symbolStrokeWidth": 0, "symbolOpacity": 1, "labelFont": "DejaVu Sans", "labelFontWeight": "bold", "labelFontSize": 77, "labelColor": "black", "labelOffset": 64, "labelLimit": 2000, "rowPadding": 37, "padding": 0}}
                 }},
                {"data": {"values": [{}]}, "mark": {"type": "rule", "strokeWidth": 7, "color": "black", "strokeCap": "square"},
                 "encoding": {
                   "x": {"datum": 0, "type": "quantitative", "scale": {"domain": [0, 1], "nice": false, "zero": false}, "axis": null},
                   "y": {"datum": 17.5, "type": "quantitative"},
                   "y2": {"datum": 35}
                 }}
              ]
            },
            {
              "width": 1061, "height": 453,
              "data": {"name": "genes"},
              "mark": {"type": "bar", "clip": true},
              "encoding": {
                "x": {"field": "gene", "type": "nominal", "scale": {"domain": ["TP53", "EGFR", "AR", "FGF3", "FBXW7", "mTOR", "EGFR3", "ALK", "SF3B1"], "paddingInner": 0, "paddingOuter": 0},
                  "axis": {"title": "Gene", "labelAngle": -90, "labelFont": "DejaVu Sans", "labelFontWeight": "bold", "labelFontStyle": "italic", "labelFontSize": 72, "labelColor": "black", "labelLimit": 2000, "labelPadding": 12, "tickSize": 27, "tickWidth": 7, "tickColor": "black", "domainWidth": 7, "domainColor": "black", "titleFont": "DejaVu Sans", "titleFontWeight": "bold", "titleFontSize": 72, "titleColor": "black", "titleY": 408, "titleBaseline": "middle"}},
                "xOffset": {"field": "period", "type": "nominal", "scale": {"domain": ["Before CRT", "After CRT"], "paddingInner": 0.667, "paddingOuter": 0.2265}},
                "y": {"field": "pct", "type": "quantitative", "scale": {"domain": [0, 5], "nice": false},
                  "axis": {"title": "% cases with gene mt", "values": [0, 1, 2, 3, 4, 5], "format": "d", "tickSize": 30, "tickWidth": 7, "tickColor": "black", "domainWidth": 7, "domainColor": "black", "labelFont": "DejaVu Sans", "labelFontWeight": "bold", "labelFontSize": 60, "labelColor": "black", "labelPadding": 20, "titleFont": "DejaVu Sans", "titleFontWeight": "bold", "titleFontSize": 80, "titleColor": "black", "titleX": -216, "titleY": -54, "titleAlign": "center", "titleBaseline": "middle", "titleAngle": -90, "titleLimit": 3000}},
                "color": {"field": "period", "type": "nominal", "scale": {"domain": ["Before CRT", "After CRT"], "range": ["#000000", "#808080"]}, "legend": null}
              }
            }
          ],
          "spacing": 76,
          "bounds": "flush",
          "resolve": {"scale": {"x": "independent", "y": "independent", "color": "independent"}, "legend": {"color": "independent"}}
        }
      ],
      "spacing": 33.6,
      "bounds": "flush",
      "resolve": {"scale": {"color": "independent", "x": "independent", "y": "independent"}, "legend": {"color": "independent"}}
    }
  ]
}
